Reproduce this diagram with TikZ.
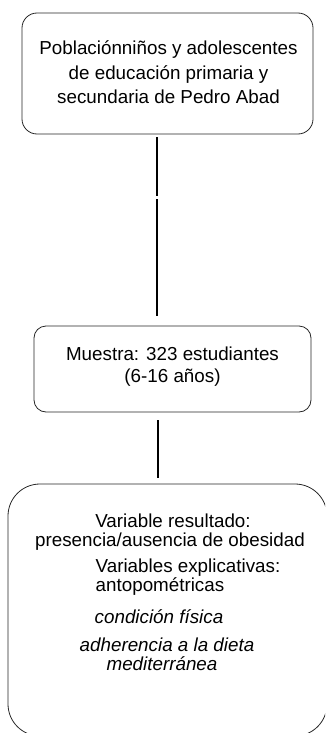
\documentclass[tikz,border=0pt]{standalone}
\usepackage{fontspec}
\setmainfont{Liberation Sans}
\begin{document}
\begin{tikzpicture}[x=1pt,y=-1pt,
    box/.style={draw=black!85, line width=0.8pt, inner sep=0pt},
    link/.style={line width=2pt},
    txt/.style={inner sep=0pt, font=\fontsize{18.8}{22}\selectfont}]

    % Fix the frame of the page
    \clip (0,0) rectangle (325,733);

    % Box for the population
    \node[box, rounded corners=15pt, minimum width=291pt, minimum height=121pt] (pob) at (167.5,73.5) {};
    \node[txt, align=center, font=\fontsize{18.8}{24.5}\selectfont] (pobtxt) at (168.5,72.5)
        {Poblaciónniños y adolescentes\\de educación primaria y\\secundaria de Pedro Abad};

    % Box for the sample
    \node[box, rounded corners=12pt, minimum width=277pt, minimum height=86pt] (mue) at (172.5,369) {};
    \node[txt, align=center, font=\fontsize{18.8}{22}\selectfont] (muetxt) at (172.5,367)
        {Muestra: 323 estudiantes\\(6-16 años)};

    % Box for the variables (runs off the page at the right and bottom)
    \node[box, rounded corners=32pt, minimum width=319pt, minimum height=252pt] (var) at (167.5,610) {};
    \node[txt] (res1) at (173,521) {Variable resultado:};
    \node[txt] (res2) at (170,542) {presencia/ausencia de obesidad};
    \node[txt] (exp1) at (188,568) {Variables explicativas:};
    \node[txt] (exp2) at (160,587) {antopométricas};
    \node[txt] (fis)  at (159,617) {\itshape condición física};
    \node[txt] (adh1) at (167,645) {\itshape adherencia a la dieta};
    \node[txt] (adh2) at (162,664) {\itshape mediterránea};

    % Points where the connectors break off
    \coordinate (cutA) at (157,196);
    \coordinate (cutB) at (157,199);
    \coordinate (lnB) at (158,0);

    % Connector from the population to the sample, in two pieces
    \draw[link, shorten <=3pt] (pob.south -| cutA) -- (cutA);
    \draw[link, shorten >=10pt] (cutB) -- (cutB |- mue.north);

    % Connector from the sample to the variables
    \draw[link, shorten <=8pt, shorten >=6pt] (mue.south -| lnB) -- (var.north -| lnB);

\end{tikzpicture}
\end{document}
